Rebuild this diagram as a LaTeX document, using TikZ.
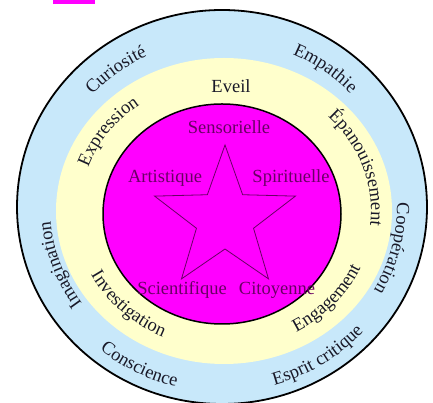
\documentclass[tikz,border=0pt]{standalone}
\usepackage{fontspec}
\setmainfont{Liberation Serif}
\usepackage{xcolor}
\usepackage{tikz}
\usetikzlibrary{decorations.text}
\definecolor{ringblue}{RGB}{200,232,250}
\definecolor{ringyellow}{RGB}{255,255,204}
\definecolor{coremagenta}{RGB}{255,0,255}
\definecolor{ringink}{RGB}{25,25,40}
\definecolor{coreink}{RGB}{105,0,100}
\newcommand{\ringfont}{\fontsize{18.5}{20}\selectfont}
\tikzset{
  arctext/.style={decorate, decoration={text along path, text align=center, text color=ringink, text={|\ringfont|#1}}},
  ringlabel/.style={font=\ringfont, text=ringink, inner sep=0},
  corelabel/.style={font=\ringfont, text=coreink, inner sep=0},
}

\begin{document}
\begin{tikzpicture}[x=1pt, y=1pt]
\useasboundingbox (0,0) rectangle (433,403);
\fill[coremagenta] (53,399) rectangle (95,403);
\coordinate (outer) at (222,196);
\coordinate (mid) at (224,192);
\coordinate (core) at (222,189);
\coordinate (starc) at (225,184);
% rings
\filldraw[fill=ringblue, draw=black, line width=1.8pt] (outer) ellipse [x radius=205, y radius=197];
\fill[ringyellow] (mid) ellipse [x radius=168, y radius=153];
\filldraw[fill=coremagenta, draw=black, line width=1.5pt] (core) ellipse [x radius=119, y radius=110];
% star
\foreach \k in {0,...,4} {
  \coordinate (p\k) at ([shift={(starc)}] 90+72*\k:74);
  \coordinate (q\k) at ([shift={(starc)}] 126+72*\k:30);
}
\draw[coreink, line width=0.8pt] (p0) -- (q0) -- (p1) -- (q1) -- (p2) -- (q2) -- (p3) -- (q3) -- (p4) -- (q4) -- cycle;
% outer ring
\path[arctext=Curiosité] (outer) ++(167:175 and 167) arc[start angle=167, end angle=87, x radius=175, y radius=167];
\path[arctext=Empathie] (outer) ++(94:175 and 167) arc[start angle=94, end angle=14, x radius=175, y radius=167];
\path[arctext=Coopération] (outer) ++(26:175 and 167) arc[start angle=26, end angle=-54, x radius=175, y radius=167];
\path[arctext=Imagination] (outer) ++(240:172 and 166) arc[start angle=240, end angle=160, x radius=172, y radius=166];
\path[arctext=Esprit critique] (outer) ++(262:192 and 185) arc[start angle=262, end angle=342, x radius=192, y radius=185];
\path[arctext=Conscience] (outer) ++(203:192 and 185) arc[start angle=203, end angle=283, x radius=192, y radius=185];
% middle ring
\node[ringlabel] (eveil) at (231,317) {Eveil};
\path[arctext=Expression] (mid) ++(184:144 and 131) arc[start angle=184, end angle=104, x radius=144, y radius=131];
\path[arctext=Épanouissement] (mid) ++(60:147 and 133) arc[start angle=60, end angle=-22, x radius=147, y radius=133];
\path[arctext=Engagement] (mid) ++(278:150 and 138) arc[start angle=278, end angle=358, x radius=150, y radius=138];
\path[arctext=Investigation] (mid) ++(186:150 and 138) arc[start angle=186, end angle=266, x radius=150, y radius=138];
% core
\node[corelabel] (sensorielle) at (229,276) {Sensorielle};
\node[corelabel] (artistique) at (165,225) {Artistique};
\node[corelabel] (spirituelle) at (291,225) {Spirituelle};
\node[corelabel] (scientifique) at (182,113) {Scientifique};
\node[corelabel] (citoyenne) at (277,113) {Citoyenne};
\end{tikzpicture}
\end{document}
